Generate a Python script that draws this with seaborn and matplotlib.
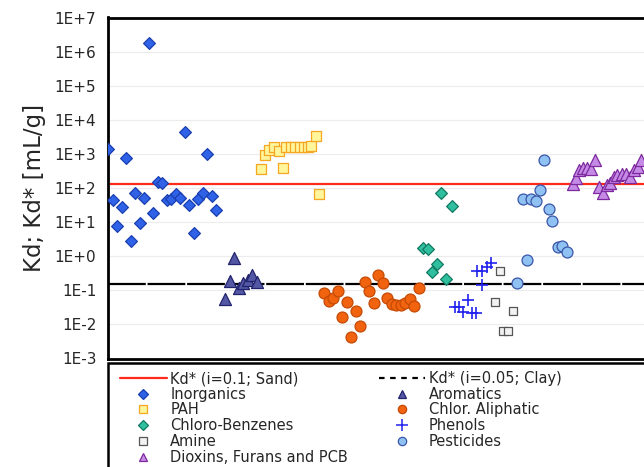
import numpy as np
import pandas as pd
import seaborn as sns
import matplotlib.pyplot as plt
from matplotlib.lines import Line2D
from matplotlib.patches import Rectangle

# sample positions (unitless sample number) and Kd values [mL/g]
inorg_x = list(range(1, 26))
inorg_y = [1365, 44, 7.8, 27, 743, 2.85, 73, 9.2, 50, 1.75e6, 18, 153, 143,
           44, 47, 67, 52, 4480, 32, 4.7, 48, 73, 973, 58, 23]

arom_x = [27, 28, 29, 30, 31, 32, 33, 34]
arom_y = [0.054, 0.19, 0.87, 0.115, 0.16, 0.2, 0.28, 0.18]

pah_x = [35, 35.8, 36.8, 37.8, 39, 39.9, 40.6, 41.6, 42.6, 43.5, 44.5, 45.4, 46, 47.1, 47.9]
pah_y = [353, 929, 1300, 1560, 1240, 378, 1630, 1630, 1630, 1630, 1630, 1630, 1740, 3350, 65]

chal_x = list(range(49, 71))
chal_y = [0.085, 0.049, 0.058, 0.097, 0.017, 0.044, 0.0042, 0.024, 0.0092, 0.18, 0.095,
          0.043, 0.29, 0.16, 0.058, 0.040, 0.037, 0.037, 0.043, 0.054, 0.035, 0.12]

clbz_x = [71, 72, 73, 74, 75, 76, 77.3]
clbz_y = [1.77, 1.6, 0.35, 0.58, 73, 0.21, 30]

phen_x = [78, 78.9, 79.8, 80.9, 81.8, 82.7, 82.9, 84, 84, 85.1, 86]
phen_y = [0.032, 0.032, 0.023, 0.052, 0.022, 0.022, 0.37, 0.37, 0.14, 0.48, 0.63]

amine_x = [86.9, 88, 88.8, 89.9, 91]
amine_y = [0.044, 0.37, 0.0064, 0.0064, 0.025]

pest_x = [91.8, 93.1, 94.1, 94.9, 96, 96.9, 97.9, 98.9, 99.7, 101, 101.9, 103]
pest_y = [0.16, 47, 0.77, 47, 42, 87, 662, 24, 10.8, 1.8, 2.0, 1.3]

diox_x = [104.2, 104.9, 105.7, 106.6, 107.4, 108.2, 109.2, 110.1, 111, 111.8,
          112.6, 113.4, 114.1, 115.1, 116, 116.9, 117.8, 118.8, 119.5]
diox_y = [128, 192, 337, 378, 378, 361, 662, 109, 70, 122, 137, 214, 240, 252,
          252, 214, 337, 422, 662]

kd_sand = 132
kd_clay = 0.15
ytick_vals = [1e-3, 1e-2, 1e-1, 1e0, 1e1, 1e2, 1e3, 1e4, 1e5, 1e6, 1e7]
ytick_labels = ["1E-3", "1E-2", "1E-1", "1E+0", "1E+1", "1E+2", "1E+3",
                "1E+4", "1E+5", "1E+6", "1E+7"]

groups = [
    ("Inorganics", inorg_x, inorg_y, "D", "#2f62e6", "#1a3fb0", 36),
    ("Aromatics", arom_x, arom_y, "^", "#5457a3", "#22236e", 75),
    ("PAH", pah_x, pah_y, "s", "#fff59a", "#f5a623", 50),
    ("Chlor. Aliphatic", chal_x, chal_y, "o", "#f2630f", "#c44a05", 62),
    ("Chloro-Benzenes", clbz_x, clbz_y, "D", "#2fbf9f", "#127a62", 36),
    ("Phenols", phen_x, phen_y, "+", "#2222ee", None, 80),
    ("Amine", amine_x, amine_y, "s", "#f2f2f2", "#555555", 38),
    ("Pesticides", pest_x, pest_y, "o", "#8fc1f2", "#3a56a8", 62),
    ("Dioxins, Furans and PCB", diox_x, diox_y, "^", "#c58ae6", "#7d2a9e", 75),
]

sns.set_style("white")
plt.rcParams['font.family'] = ['DejaVu Sans']

fig = plt.figure(figsize=(6.44, 4.67), dpi=100)
ax = fig.add_axes([107.5 / 644, 1 - 358.5 / 467, (690 - 107.5) / 644, (358.5 - 17.5) / 467])

for name, xs, ys, mk, fc, ec, s in groups:
    df = pd.DataFrame({"x": xs, "y": ys})
    if mk == "+":
        sns.scatterplot(data=df, x="x", y="y", marker="+", color=fc, s=s,
                        linewidth=1.2, ax=ax, zorder=3)
    else:
        sns.scatterplot(data=df, x="x", y="y", marker=mk, color=fc, edgecolor=ec,
                        linewidth=0.9, s=s, ax=ax, zorder=3)

ax.axhline(kd_sand, color="#ff2a1a", lw=1.6, zorder=2)
ax.axhline(kd_clay, color="black", lw=1.6, dashes=(17, 0.8), zorder=2)

ax.set_yscale("log")
ax.set_ylim(1e-3, 1e7)
ax.set_xlim(0.82, 130.3)
ax.set_yticks(ytick_vals)
ax.set_yticklabels(ytick_labels, fontsize=11)
ax.minorticks_off()
ax.set_xticks([])
ax.tick_params(axis="y", length=0, pad=8)
ax.set_xlabel("")
ax.set_ylabel("Kd; Kd* [mL/g]", fontsize=16.5, labelpad=6)
ax.grid(axis="y", color="#ececec", lw=0.8)
ax.set_axisbelow(True)
for side in ["top", "left", "bottom", "right"]:
    ax.spines[side].set_color("black")
    ax.spines[side].set_linewidth(2)

# legend box below the plot
fig.add_artist(Rectangle((108 / 644, -0.2), 1.0, 0.2 + (1 - 363 / 467),
                         transform=fig.transFigure, fill=False,
                         edgecolor="black", lw=1.8))

def mk_handle(mk, fc, ec):
    if mk == "+":
        return Line2D([], [], ls="none", marker="+", color=fc, markersize=8, mew=1.1)
    return Line2D([], [], ls="none", marker=mk, markerfacecolor=fc,
                  markeredgecolor=ec, markersize=6 if mk != "D" else 5, mew=0.9)

h = {g[0]: mk_handle(g[3], g[4], g[5]) for g in groups}
sand_h = Line2D([], [], color="#ff2a1a", lw=1.6)
clay_h = Line2D([], [], color="black", lw=1.6, dashes=(2.5, 2.5))

col1 = [("Kd* (i=0.1; Sand)", sand_h), ("Inorganics", h["Inorganics"]), ("PAH", h["PAH"]),
        ("Chloro-Benzenes", h["Chloro-Benzenes"]), ("Amine", h["Amine"]),
        ("Dioxins, Furans and PCB", h["Dioxins, Furans and PCB"])]
col2 = [("Kd* (i=0.05; Clay)", clay_h), ("Aromatics", h["Aromatics"]),
        ("Chlor. Aliphatic", h["Chlor. Aliphatic"]), ("Phenols", h["Phenols"]),
        ("Pesticides", h["Pesticides"])]
items = col1 + col2
fig.legend([i[1] for i in items], [i[0] for i in items], ncol=2, loc="upper left",
           bbox_to_anchor=(120 / 644, 1 - 371 / 467), frameon=False, fontsize=10.5,
           handlelength=3.2, handletextpad=0.25, columnspacing=2.1,
           labelspacing=0.05, borderpad=0, borderaxespad=0)

fig.savefig("out.png", dpi=100)
